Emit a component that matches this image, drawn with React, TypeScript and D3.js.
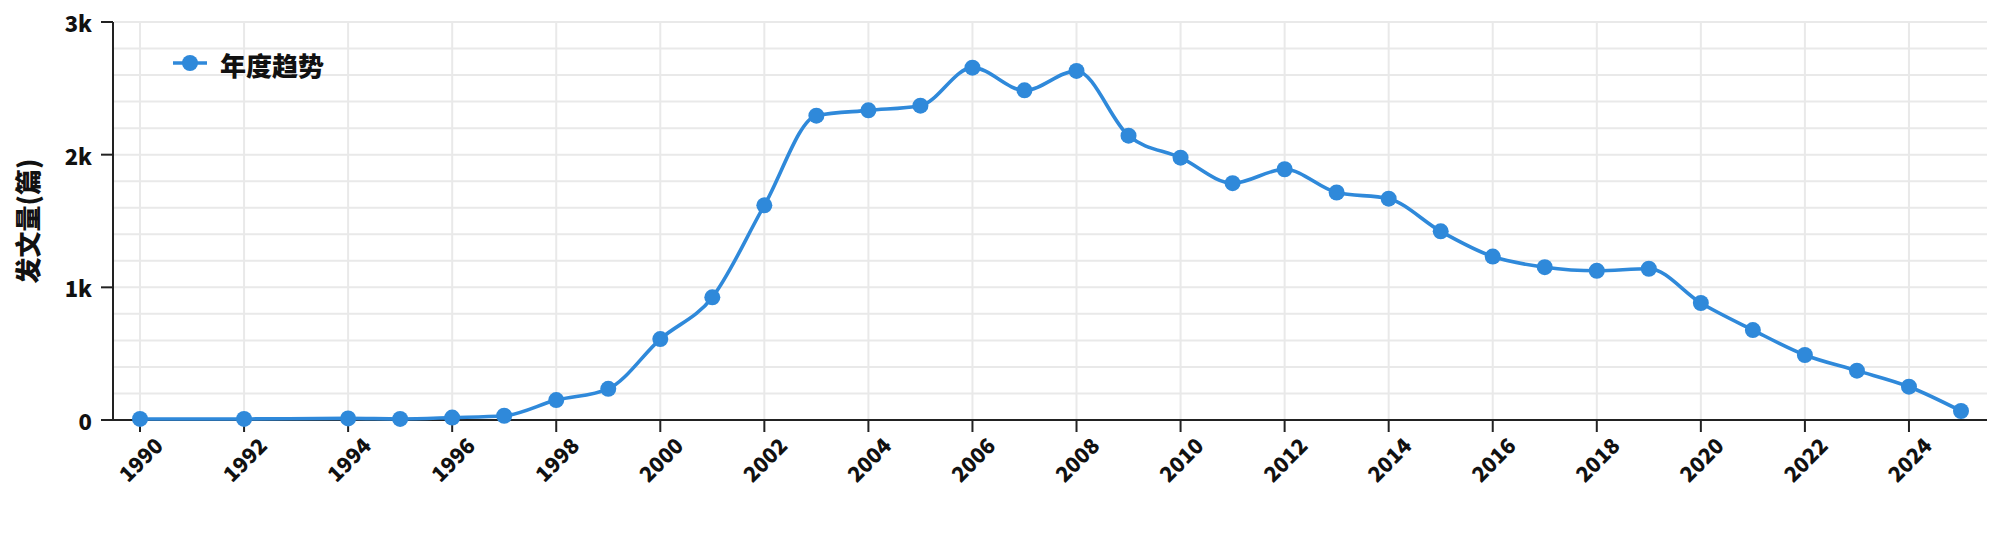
import React from "react";
import * as d3 from "d3";

const years = [1990, 1992, 1994, 1995, 1996, 1997, 1998, 1999, 2000, 2001, 2002, 2003, 2004, 2005, 2006, 2007, 2008, 2009, 2010, 2011, 2012, 2013, 2014, 2015, 2016, 2017, 2018, 2019, 2020, 2021, 2022, 2023, 2024, 2025];
const counts = [8, 8, 12, 8, 18, 32, 150, 235, 610, 925, 1618, 2294, 2334, 2369, 2656, 2485, 2631, 2143, 1977, 1785, 1890, 1715, 1668, 1422, 1232, 1152, 1125, 1140, 882, 678, 490, 372, 251, 68];
const xTickYears = [1990, 1992, 1994, 1996, 1998, 2000, 2002, 2004, 2006, 2008, 2010, 2012, 2014, 2016, 2018, 2020, 2022, 2024];
const yTickValues = [0, 1000, 2000, 3000];
const yTickLabels = ["0", "1k", "2k", "3k"];
const yGridValues = [0, 200, 400, 600, 800, 1000, 1200, 1400, 1600, 1800, 2000, 2200, 2400, 2600, 2800, 3000];
const seriesName = "年度趋势";
const yTitle = "发文量(篇)";

const W = 2000;
const H = 540;
const left = 114;
const right = 1987;
const top = 22;
const bottom = 420;
const blue = "#2f89da";
const axisColor = "#222";
const gridColor = "#e9e9e9";
const font = "'Noto Sans CJK SC', 'Noto Sans', sans-serif";

export default function App() {
  const x = d3.scaleLinear().domain([1989.5, 2025.5]).range([left, right]);
  const y = d3.scaleLinear().domain([0, 3000]).range([bottom, top]);
  const pts: [number, number][] = years.map((yr, i) => [x(yr), y(counts[i])]);
  const line = d3.line().curve(d3.curveMonotoneX)(pts) || "";
  const labelY = 459;
  const tick = 12;

  return (
    <div style={{ position: "absolute", left: 0, top: 0, width: W, height: H, background: "#fff" }}>
      <svg width={W} height={H} style={{ display: "block", fontFamily: font }}>
        {/* grid */}
        {yGridValues.map((v) => (
          <line key={"hg" + v} x1={left} x2={right} y1={y(v)} y2={y(v)} stroke={gridColor} strokeWidth={2} />
        ))}
        {xTickYears.map((yr) => (
          <line key={"vg" + yr} x1={x(yr)} x2={x(yr)} y1={top} y2={bottom} stroke={gridColor} strokeWidth={2} />
        ))}
        {/* y axis */}
        <line x1={left - 1} x2={left - 1} y1={top} y2={bottom} stroke={axisColor} strokeWidth={2} />
        {yTickValues.map((v, i) => (
          <g key={"yt" + v}>
            <line x1={left - 1 - tick} x2={left - 1} y1={y(v)} y2={y(v)} stroke={axisColor} strokeWidth={2} />
            <text x={left - 22} y={y(v)} textAnchor="end" dominantBaseline="central" fontSize={22} fontWeight={900} fill="#111">
              {yTickLabels[i]}
            </text>
          </g>
        ))}
        {/* x axis */}
        <line x1={left - 1} x2={right} y1={bottom} y2={bottom} stroke={axisColor} strokeWidth={2} />
        {xTickYears.map((yr) => (
          <g key={"xt" + yr}>
            <line x1={x(yr)} x2={x(yr)} y1={bottom} y2={bottom + tick} stroke={axisColor} strokeWidth={2} />
            <text
              x={x(yr)}
              y={labelY}
              textAnchor="middle"
              dominantBaseline="central"
              fontSize={21}
              fontWeight={900}
              fill="#111"
              transform={`rotate(-45, ${x(yr)}, ${labelY})`}
            >
              {yr}
            </text>
          </g>
        ))}
        {/* y title */}
        <text
          x={26}
          y={(top + bottom) / 2}
          textAnchor="middle"
          dominantBaseline="central"
          fontSize={26}
          fontWeight={900}
          fill="#111"
          transform={`rotate(-90, 26, ${(top + bottom) / 2})`}
        >
          {yTitle}
        </text>
        {/* line */}
        <path d={line} fill="none" stroke={blue} strokeWidth={3.6} />
        {pts.map((p, i) => (
          <circle key={"pt" + i} cx={p[0]} cy={p[1]} r={8} fill={blue} />
        ))}
        {/* legend */}
        <line x1={173} x2={207} y1={63} y2={63} stroke={blue} strokeWidth={3.6} />
        <circle cx={190} cy={63} r={8} fill={blue} />
        <text x={220} y={64} dominantBaseline="central" fontSize={26} fontWeight={900} fill="#111">
          {seriesName}
        </text>
      </svg>
    </div>
  );
}
